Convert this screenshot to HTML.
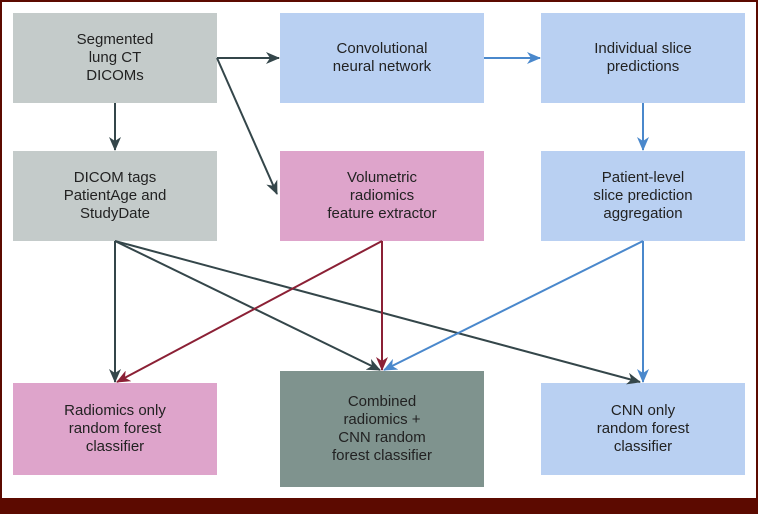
<!DOCTYPE html>
<html><head><style>
body{margin:0;background:#fff}
.wrap{position:relative;width:758px;height:514px;overflow:hidden;font-family:"Liberation Sans",sans-serif}
.b{position:absolute;display:flex;align-items:center;justify-content:center;text-align:center;font-size:15px;line-height:18px;color:#222}
.g{background:#c4cbca}.bl{background:#b9d0f2}.p{background:#dea4cb}.d{background:#7f938e}
</style></head><body><div class="wrap">
<div style="position:absolute;left:0;top:0;width:758px;height:514px;box-sizing:border-box;border:2px solid #5c0a00;border-bottom:none"></div>
<div style="position:absolute;left:0;top:498px;width:758px;height:16px;background:#5c0a00"></div>
<div class="b g" style="left:13px;top:13px;width:204px;height:90px">Segmented<br>lung CT<br>DICOMs</div>
<div class="b bl" style="left:280px;top:13px;width:204px;height:90px">Convolutional<br>neural network</div>
<div class="b bl" style="left:541px;top:13px;width:204px;height:90px">Individual slice<br>predictions</div>
<div class="b g" style="left:13px;top:151px;width:204px;height:90px">DICOM tags<br>PatientAge and<br>StudyDate</div>
<div class="b p" style="left:280px;top:151px;width:204px;height:90px">Volumetric<br>radiomics<br>feature extractor</div>
<div class="b bl" style="left:541px;top:151px;width:204px;height:90px">Patient-level<br>slice prediction<br>aggregation</div>
<div class="b p" style="left:13px;top:383px;width:204px;height:92px">Radiomics only<br>random forest<br>classifier</div>
<div class="b d" style="left:280px;top:371px;width:204px;height:116px">Combined<br>radiomics +<br>CNN random<br>forest classifier</div>
<div class="b bl" style="left:541px;top:383px;width:204px;height:92px">CNN only<br>random forest<br>classifier</div>
<svg style="position:absolute;left:0;top:0" width="758" height="514">
<defs>
<marker id="k" markerWidth="14" markerHeight="12" refX="13" refY="6" orient="auto" markerUnits="userSpaceOnUse"><path d="M0,0L14,6L0,12L4,6z" fill="#34464a"/></marker>
<marker id="r" markerWidth="14" markerHeight="12" refX="13" refY="6" orient="auto" markerUnits="userSpaceOnUse"><path d="M0,0L14,6L0,12L4,6z" fill="#8b2035"/></marker>
<marker id="u" markerWidth="14" markerHeight="12" refX="13" refY="6" orient="auto" markerUnits="userSpaceOnUse"><path d="M0,0L14,6L0,12L4,6z" fill="#4a88cc"/></marker>
</defs>
<g stroke-width="2" fill="none">
<path d="M115,103V150" stroke="#34464a" marker-end="url(#k)"/>
<path d="M217,58H279" stroke="#34464a" marker-end="url(#k)"/>
<path d="M217,58L277,194" stroke="#34464a" marker-end="url(#k)"/>
<path d="M484,58H540" stroke="#4a88cc" marker-end="url(#u)"/>
<path d="M643,103V150" stroke="#4a88cc" marker-end="url(#u)"/>
<path d="M115,241V382" stroke="#34464a" marker-end="url(#k)"/>
<path d="M115,241L380,370" stroke="#34464a" marker-end="url(#k)"/>
<path d="M115,241L640,382" stroke="#34464a" marker-end="url(#k)"/>
<path d="M382,241L117,382" stroke="#8b2035" marker-end="url(#r)"/>
<path d="M382,241V370" stroke="#8b2035" marker-end="url(#r)"/>
<path d="M643,241L384,370" stroke="#4a88cc" marker-end="url(#u)"/>
<path d="M643,241V382" stroke="#4a88cc" marker-end="url(#u)"/>
</g></svg>
</div></body></html>
